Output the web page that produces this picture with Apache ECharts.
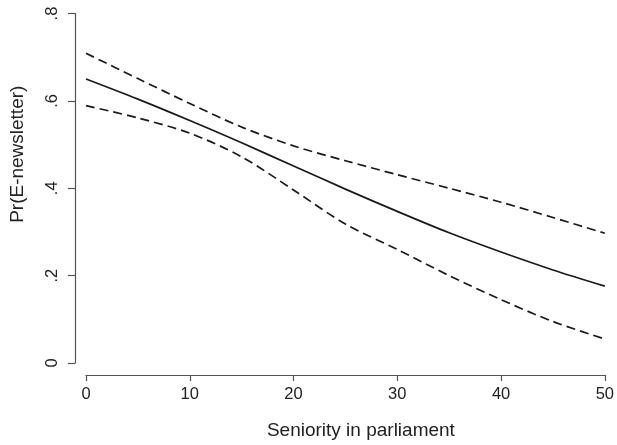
<!DOCTYPE html>
<html>
<head>
<meta charset="utf-8">
<script src="https://cdn.jsdelivr.net/npm/echarts@6/dist/echarts.min.js"></script>
<style>
html,body{margin:0;padding:0;background:#fff;}
#c{width:617px;height:445px;}
</style>
</head>
<body>
<div id="c"></div>
<script>
const seniority = [0, 5, 10, 15, 20, 25, 30, 35, 40, 45, 50];
const prEst   = [0.650, 0.604, 0.555, 0.504, 0.451, 0.398, 0.347, 0.298, 0.254, 0.213, 0.176];
const prUpper = [0.709, 0.651, 0.594, 0.540, 0.497, 0.463, 0.431, 0.400, 0.368, 0.333, 0.297];
const prLower = [0.589, 0.561, 0.526, 0.472, 0.396, 0.318, 0.260, 0.200, 0.145, 0.095, 0.055];
const yTickLabels = {0: '0', 0.2: '.2', 0.4: '.4', 0.6: '.6', 0.8: '.8'};

const font = 'Liberation Sans, Arial, Helvetica, sans-serif';
const pairs = (ys) => seniority.map((x, i) => [x, ys[i]]);
const lineColor = '#1a1a1a';

const chart = echarts.init(document.getElementById('c'), null, {renderer: 'canvas'});
chart.setOption({
  animation: false,
  backgroundColor: '#ffffff',
  grid: {left: 85, right: 8, top: 13.5, bottom: 82, containLabel: false},
  xAxis: {
    type: 'value', min: 0, max: 50, interval: 10, offset: 12,
    name: 'Seniority in parliament', nameLocation: 'middle', nameGap: 46,
    nameTextStyle: {fontFamily: font, fontSize: 19, color: '#222', padding: [0, 0, 0, 31]},
    axisLine: {show: true, onZero: false, lineStyle: {color: '#555', width: 1.2}},
    axisTick: {show: true, length: 6, inside: false, lineStyle: {color: '#555', width: 1.2}},
    axisLabel: {fontFamily: font, fontSize: 16.5, color: '#222', margin: 11},
    splitLine: {show: false}
  },
  yAxis: {
    type: 'value', min: 0, max: 0.8, interval: 0.2, offset: 11,
    name: 'Pr(E-newsletter)', nameLocation: 'middle', nameGap: 48, nameRotate: 90,
    nameTextStyle: {fontFamily: font, fontSize: 19, color: '#222', padding: [0, 0, 0, 68]},
    axisLine: {show: true, onZero: false, lineStyle: {color: '#555', width: 1.2}},
    axisTick: {show: true, length: 7, inside: false, lineStyle: {color: '#555', width: 1.2}},
    axisLabel: {fontFamily: font, fontSize: 16.5, color: '#222', rotate: 90, margin: 14,
      formatter: v => yTickLabels[Math.round(v * 10) / 10] ?? String(v)},
    splitLine: {show: false}
  },
  series: [
    {type: 'line', data: pairs(prUpper), smooth: 0.3, symbol: 'none',
     lineStyle: {color: lineColor, width: 1.7, type: [9, 5]}},
    {type: 'line', data: pairs(prEst), smooth: 0.3, symbol: 'none',
     lineStyle: {color: lineColor, width: 1.7, type: 'solid'}},
    {type: 'line', data: pairs(prLower), smooth: 0.3, symbol: 'none',
     lineStyle: {color: lineColor, width: 1.7, type: [9, 5]}}
  ]
});
</script>
</body>
</html>
